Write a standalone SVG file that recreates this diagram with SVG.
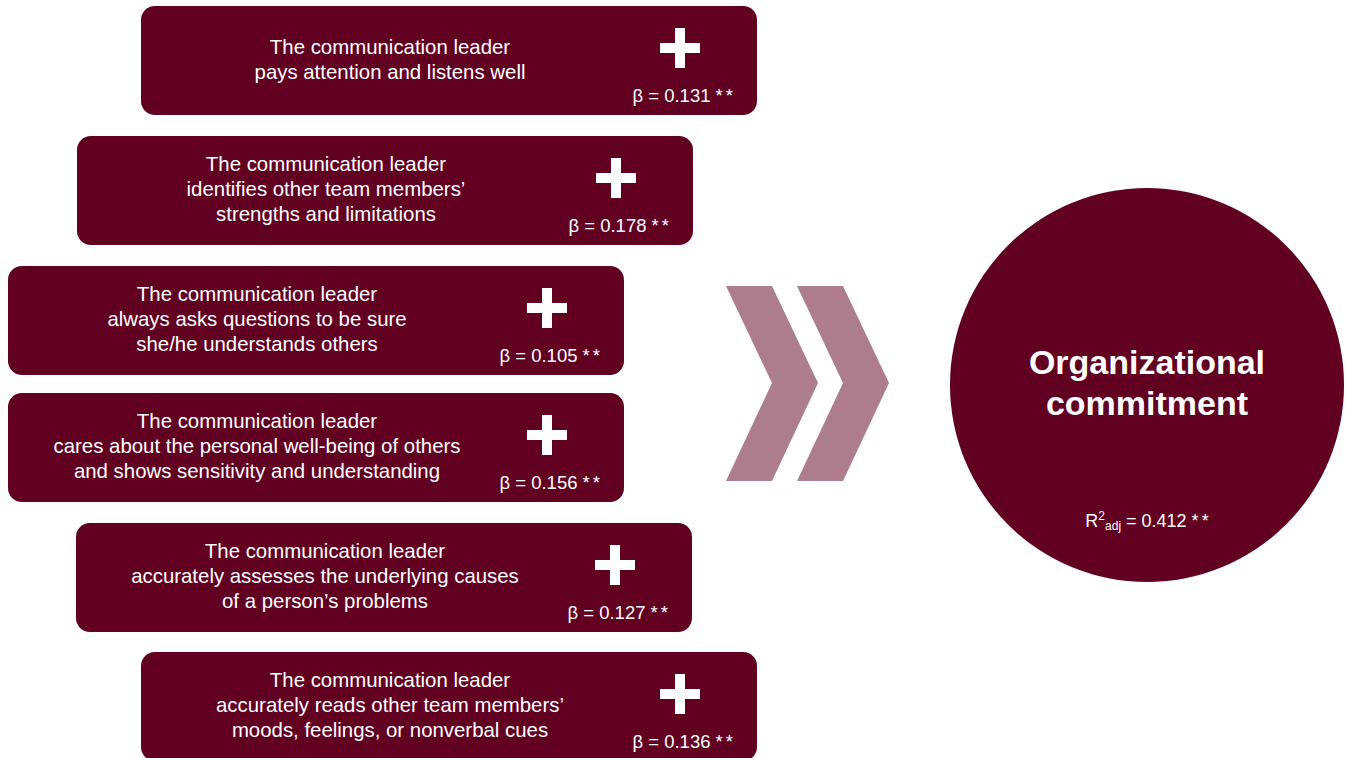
<svg xmlns="http://www.w3.org/2000/svg" width="1346" height="758" viewBox="0 0 1346 758">
<style>
.box{fill:#620022}
.t{font-family:"Liberation Sans",Arial,sans-serif;font-size:20.4px;fill:#fff;text-anchor:middle}
.b{font-family:"Liberation Sans",Arial,sans-serif;font-size:18.5px;fill:#fff;text-anchor:end}
.plus{fill:#fff}
.chev{fill:#ae7d8c}
</style>
<defs>
<path id="plus" d="M-5,-20h10v15h15v10h-15v15h-10v-15h-15v-10h15z"/>
</defs>
<rect width="1346" height="758" fill="#fff"/>
<g id="connectors">
<polygon class="chev" points="726,286 772,286 818,383 772,481 726,481 772,383"/>
<polygon class="chev" points="797,286 843,286 889,383 843,481 797,481 843,383"/>
</g>
<g id="n1">
<rect class="box" x="141" y="6" width="616" height="109" rx="14"/>
<text class="t" x="390" y="54">The communication leader</text>
<text class="t" x="390" y="79">pays attention and listens well</text>
<use href="#plus" class="plus" x="680" y="48"/>
<text class="b" x="733" y="102">β = 0.131 *<tspan dx="3">*</tspan></text>
</g>
<g id="n2">
<rect class="box" x="77" y="136" width="616" height="109" rx="14"/>
<text class="t" x="326" y="171">The communication leader</text>
<text class="t" x="326" y="196">identifies other team members’</text>
<text class="t" x="326" y="221">strengths and limitations</text>
<use href="#plus" class="plus" x="616" y="178"/>
<text class="b" x="669" y="232">β = 0.178 *<tspan dx="3">*</tspan></text>
</g>
<g id="n3">
<rect class="box" x="8" y="266" width="616" height="109" rx="14"/>
<text class="t" x="257" y="301">The communication leader</text>
<text class="t" x="257" y="326">always asks questions to be sure</text>
<text class="t" x="257" y="351">she/he understands others</text>
<use href="#plus" class="plus" x="547" y="308"/>
<text class="b" x="600" y="362">β = 0.105 *<tspan dx="3">*</tspan></text>
</g>
<g id="n4">
<rect class="box" x="8" y="393" width="616" height="109" rx="14"/>
<text class="t" x="257" y="428">The communication leader</text>
<text class="t" x="257" y="453">cares about the personal well-being of others</text>
<text class="t" x="257" y="478">and shows sensitivity and understanding</text>
<use href="#plus" class="plus" x="547" y="435"/>
<text class="b" x="600" y="489">β = 0.156 *<tspan dx="3">*</tspan></text>
</g>
<g id="n5">
<rect class="box" x="76" y="523" width="616" height="109" rx="14"/>
<text class="t" x="325" y="558">The communication leader</text>
<text class="t" x="325" y="583">accurately assesses the underlying causes</text>
<text class="t" x="325" y="608">of a person’s problems</text>
<use href="#plus" class="plus" x="615" y="565"/>
<text class="b" x="668" y="619">β = 0.127 *<tspan dx="3">*</tspan></text>
</g>
<g id="n6">
<rect class="box" x="141" y="652" width="616" height="109" rx="14"/>
<text class="t" x="390" y="687">The communication leader</text>
<text class="t" x="390" y="712">accurately reads other team members’</text>
<text class="t" x="390" y="737">moods, feelings, or nonverbal cues</text>
<use href="#plus" class="plus" x="680" y="694"/>
<text class="b" x="733" y="748">β = 0.136 *<tspan dx="3">*</tspan></text>
</g>
<g id="outcome">
<circle class="box" cx="1147" cy="385" r="197"/>
<text x="1147" y="374" font-family="Liberation Sans,Arial,sans-serif" font-weight="bold" font-size="34" fill="#fff" text-anchor="middle">Organizational</text>
<text x="1147" y="415" font-family="Liberation Sans,Arial,sans-serif" font-weight="bold" font-size="34" fill="#fff" text-anchor="middle">commitment</text>
<text x="1147" y="527" font-family="Liberation Sans,Arial,sans-serif" font-size="18" fill="#fff" text-anchor="middle">R<tspan font-size="12" dy="-7">2</tspan><tspan font-size="12" dy="10">adj</tspan><tspan dy="-3"> = 0.412 *</tspan><tspan dx="3">*</tspan></text>
</g>
</svg>
